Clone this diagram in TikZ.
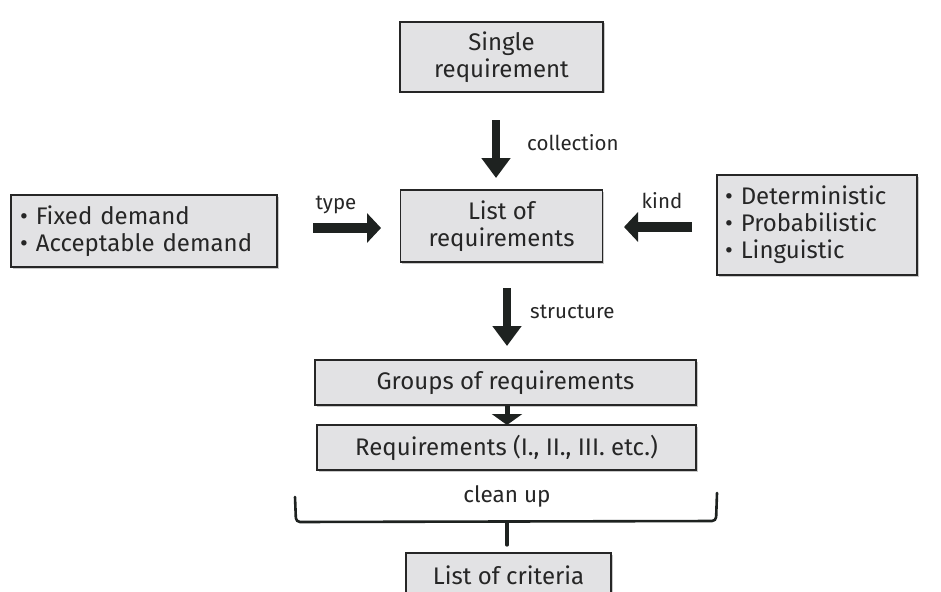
\documentclass[tikz,border=0pt]{standalone}
\usepackage{fontspec}
\setmainfont{Fira Sans}
\usetikzlibrary{arrows.meta,shadows}
\definecolor{boxfill}{HTML}{E2E2E4}
\definecolor{txt}{HTML}{262626}
\definecolor{arr}{HTML}{1E2220}
\tikzset{
  box/.style={draw=black!85, line width=1.1pt, fill=boxfill, text=txt,
    font=\fontsize{24}{28}\selectfont, inner sep=0pt,
    drop shadow={shadow xshift=1.5pt, shadow yshift=-1.5pt, fill=black!35, opacity=0.6}},
  lbl/.style={text=txt, font=\fontsize{20.5}{24}\selectfont, inner sep=0pt},
  bigarrow/.style={draw=arr, line width=8pt, -{Triangle[width=28pt,length=20pt]}},
  midarrow/.style={draw=arr, line width=10pt, -{Triangle[width=29pt,length=14pt]}},
  smallarrow/.style={draw=arr, line width=5pt, -{Triangle[width=30pt,length=11pt]}},
  bracket/.style={draw=arr, line width=2.6pt, rounded corners=4pt, line cap=round}
}
\begin{document}
\begin{tikzpicture}[x=1pt,y=-1pt]
\useasboundingbox (0,0) rectangle (941,591);
\fill[white] (0,0) rectangle (941,591);
\clip (0,0) rectangle (941,591);
% nodes
\node[box, minimum width=203pt, minimum height=70pt, align=center] (single) at (501.5,57) {Single\\[-1pt]requirement};
\node[box, minimum width=202pt, minimum height=72pt, align=center] (list) at (501.5,226) {List of\\[-1pt]requirements};
\node[box, minimum width=266pt, minimum height=72pt, align=left, text width=248pt] (left) at (144,231) {\textbullet\ Fixed demand\\[-1pt]\textbullet\ Acceptable demand};
\node[box, minimum width=200pt, minimum height=100pt, align=left, text width=184pt] (right) at (817,225) {\textbullet\ Deterministic\\[-1pt]\textbullet\ Probabilistic\\[-1pt]\textbullet\ Linguistic};
\node[box, minimum width=381pt, minimum height=45pt] (groups) at (505.5,382.5) {Groups of requirements};
\node[box, minimum width=379pt, minimum height=45pt] (reqs) at (506.5,447.5) {Requirements (I., II., III. etc.)};
\node[box, minimum width=205pt, minimum height=44pt] (criteria) at (508.5,575) {List of criteria};
% coordinates for connectors
\coordinate (colA) at (496,120);
\coordinate (colB) at (496,178);
\coordinate (strA) at (507,288);
\coordinate (strB) at (507,346);
\coordinate (typA) at (313,228);
\coordinate (typB) at (381,228);
\coordinate (kndA) at (692,227);
\coordinate (kndB) at (624,227);
\coordinate (grA) at (507,406);
\coordinate (grB) at (507,425);
% arrows
\draw[bigarrow] (colA) -- (colB);
\draw[bigarrow] (strA) -- (strB);
\draw[midarrow] (typA) -- (typB);
\draw[midarrow] (kndA) -- (kndB);
\draw[smallarrow] (grA) -- (grB);
% labels
\node[lbl, anchor=west] (lcol) at (527,143) {collection};
\node[lbl, anchor=west] (lstr) at (530,312) {structure};
\node[lbl] (ltyp) at (336,205) {type};
\node[lbl] (lknd) at (662,201) {kind};
\node[lbl, font=\fontsize{22.5}{26}\selectfont] (lcln) at (507,496) {clean up};
% bracket
\coordinate (brL) at (295,497);
\coordinate (brR) at (717,493);
\coordinate (brM) at (507,522);
\coordinate (brS) at (507,545);
\draw[bracket] (brL) -- (296,522) -- (716,521) -- (brR);
\draw[bracket, line width=3.2pt] (brM) -- (brS);
\end{tikzpicture}
\end{document}
